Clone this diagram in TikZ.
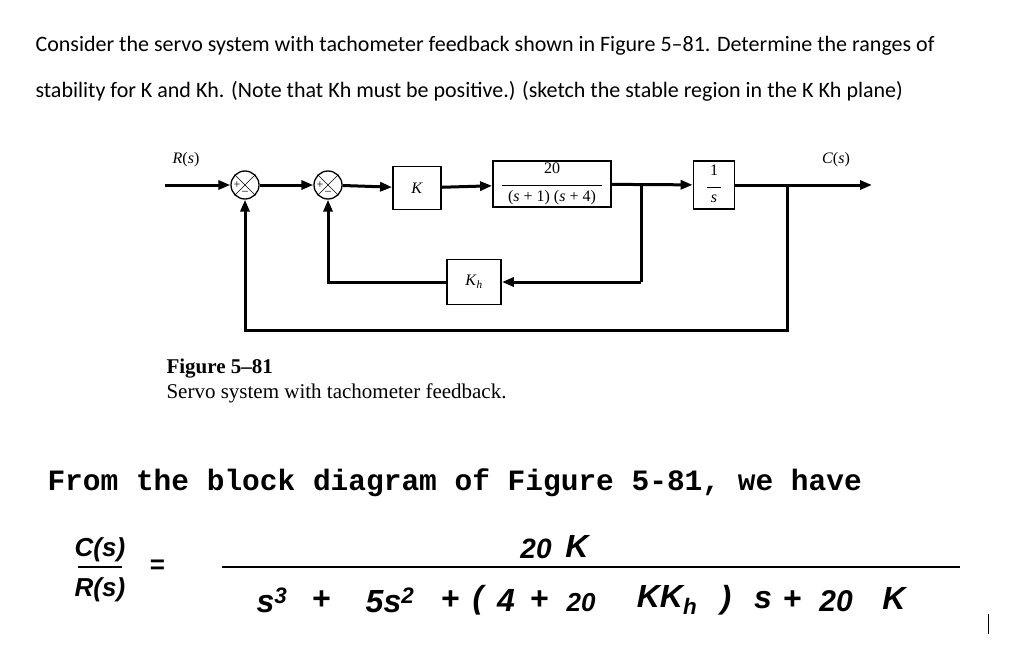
\documentclass[tikz,border=0pt]{standalone}
\usepackage{amsmath}
\usepackage{fontspec}
\setmainfont{Carlito}
\newfontfamily\serifx{Liberation Serif}
\newfontfamily\monox{Liberation Mono}
\newfontfamily\handx{Liberation Sans}
\usetikzlibrary{arrows.meta}
\begin{document}
\begin{tikzpicture}[x=1pt,y=-1pt,
  blk/.style={draw,line width=1.8pt,minimum width=#1,inner sep=0pt},
  sig/.style={line width=3pt,-{Triangle[length=12pt,width=9pt]}},
  wire/.style={line width=3pt},
  sumc/.style={draw,circle,line width=1.3pt,minimum size=28pt,inner sep=0pt},
  dia/.style={font=\serifx\fontsize{16}{18}\selectfont},
  hw/.style={font=\handx\bfseries\itshape\fontsize{#1}{#1}\selectfont}]
\useasboundingbox (0,0) rectangle (1024,666);
\node[anchor=west,font=\fontsize{22}{26}\selectfont] (l1) at (32,46) {Consider the servo system with tachometer feedback shown in Figure 5–81. Determine the ranges of};
\node[anchor=west,font=\fontsize{22}{26}\selectfont] (l2) at (32,91) {stability for K and Kh. (Note that Kh must be positive.) (sketch the stable region in the K Kh plane)};
% diagram
\coordinate (in) at (165,185);
\node[sumc] (s1) at (245,185) {};
\node[sumc] (s2) at (328,185) {};
\foreach \s in {s1,s2}{\draw[line width=0.6pt] (\s.north west)--(\s.south east) (\s.north east)--(\s.south west);
 \node[font=\serifx\fontsize{12}{12}\selectfont] at ([xshift=-8pt]\s.center) {+};
 \node[font=\serifx\fontsize{12}{12}\selectfont] at ([yshift=-8pt]\s.center) {–};}
\node[blk=48pt,minimum height=43pt,dia] (k) at (417,188) {\textit{K}};
\node[blk=118pt,minimum height=46pt,dia] (g) at (552,184) {\begin{tabular}{@{}c@{}}20\\[-6pt]\rule{100pt}{0.5pt}\\[-2pt](\textit{s} + 1) (\textit{s} + 4)\end{tabular}};
\node[blk=41pt,minimum height=48pt,dia] (i) at (714,185) {\begin{tabular}{@{}c@{}}1\\[-6pt]\rule{14pt}{0.5pt}\\[-3pt]\textit{s}\end{tabular}};
\node[blk=54pt,minimum height=45pt,dia] (kh) at (474,282) {\textit{K}$_{\textit{h}}$};
\coordinate (out) at (872,185);
\coordinate (b1) at (641,185);
\coordinate (b2) at (787,185);
\node[dia] (rl) at (186,160) {\textit{R}(\textit{s})};
\node[dia] (cl) at (836,160) {\textit{C}(\textit{s})};
\draw[sig] (in) -- (s1);
\draw[sig] (s1) -- (s2);
\draw[sig] (s2) -- (k);
\draw[sig] (k) -- (g);
\draw[sig] (g) -- (i);
\draw[sig] (i) -- (out);
\draw[wire] (b1) -- (b1|-kh.east);
\draw[sig] (b1|-kh.east) -- (kh);
\draw[sig] (kh.west) -| (s2);
\draw[sig] (b2) |- (250,330) -| (s1);
\node[anchor=west,font=\serifx\bfseries\fontsize{21}{24}\selectfont] (f1) at (163,369) {Figure 5–81};
\node[anchor=west,font=\serifx\fontsize{21}{24}\selectfont] (f2) at (163,393) {Servo system with tachometer feedback.};
% handwritten part
\node[anchor=west,font=\monox\bfseries\fontsize{29.5}{30}\selectfont] (h1) at (44,483) {From the block diagram of Figure 5-81, we have};
\node[hw=26] (cs) at (100,550) {C(s)};
\node[hw=26] (rs) at (100,590) {R(s)};
\draw[line width=1.8pt] (78,567) -- (122,567);
\node[hw=26] (eq) at (157,567) {=};
\draw[line width=1.8pt] (222,567) -- (960,567);
\node[hw=28] (n1) at (536,549) {20};
\node[hw=32] (n2) at (577,546) {K};
\node[hw=32] (d1) at (272,600) {s\textsuperscript{3}};
\node[hw=32] (d2) at (321,600) {+};
\node[hw=32] (d3) at (390,600) {5s\textsuperscript{2}};
\node[hw=32] (d4) at (450,600) {+};
\node[hw=32] (d5) at (478,600) {(};
\node[hw=32] (d6) at (506,600) {4};
\node[hw=32] (d7) at (539,600) {+};
\node[hw=26] (d8) at (581,603) {20};
\node[hw=32] (d9) at (667,600) {KK\textsubscript{h}};
\node[hw=32] (d10) at (726,600) {)};
\node[hw=32] (d11) at (763,600) {s};
\node[hw=32] (d12) at (792,600) {+};
\node[hw=30] (d13) at (836,601) {20};
\node[hw=32] (d14) at (894,598) {K};
\draw[line width=1pt] (988,614) -- (988,634);
\end{tikzpicture}
\end{document}
